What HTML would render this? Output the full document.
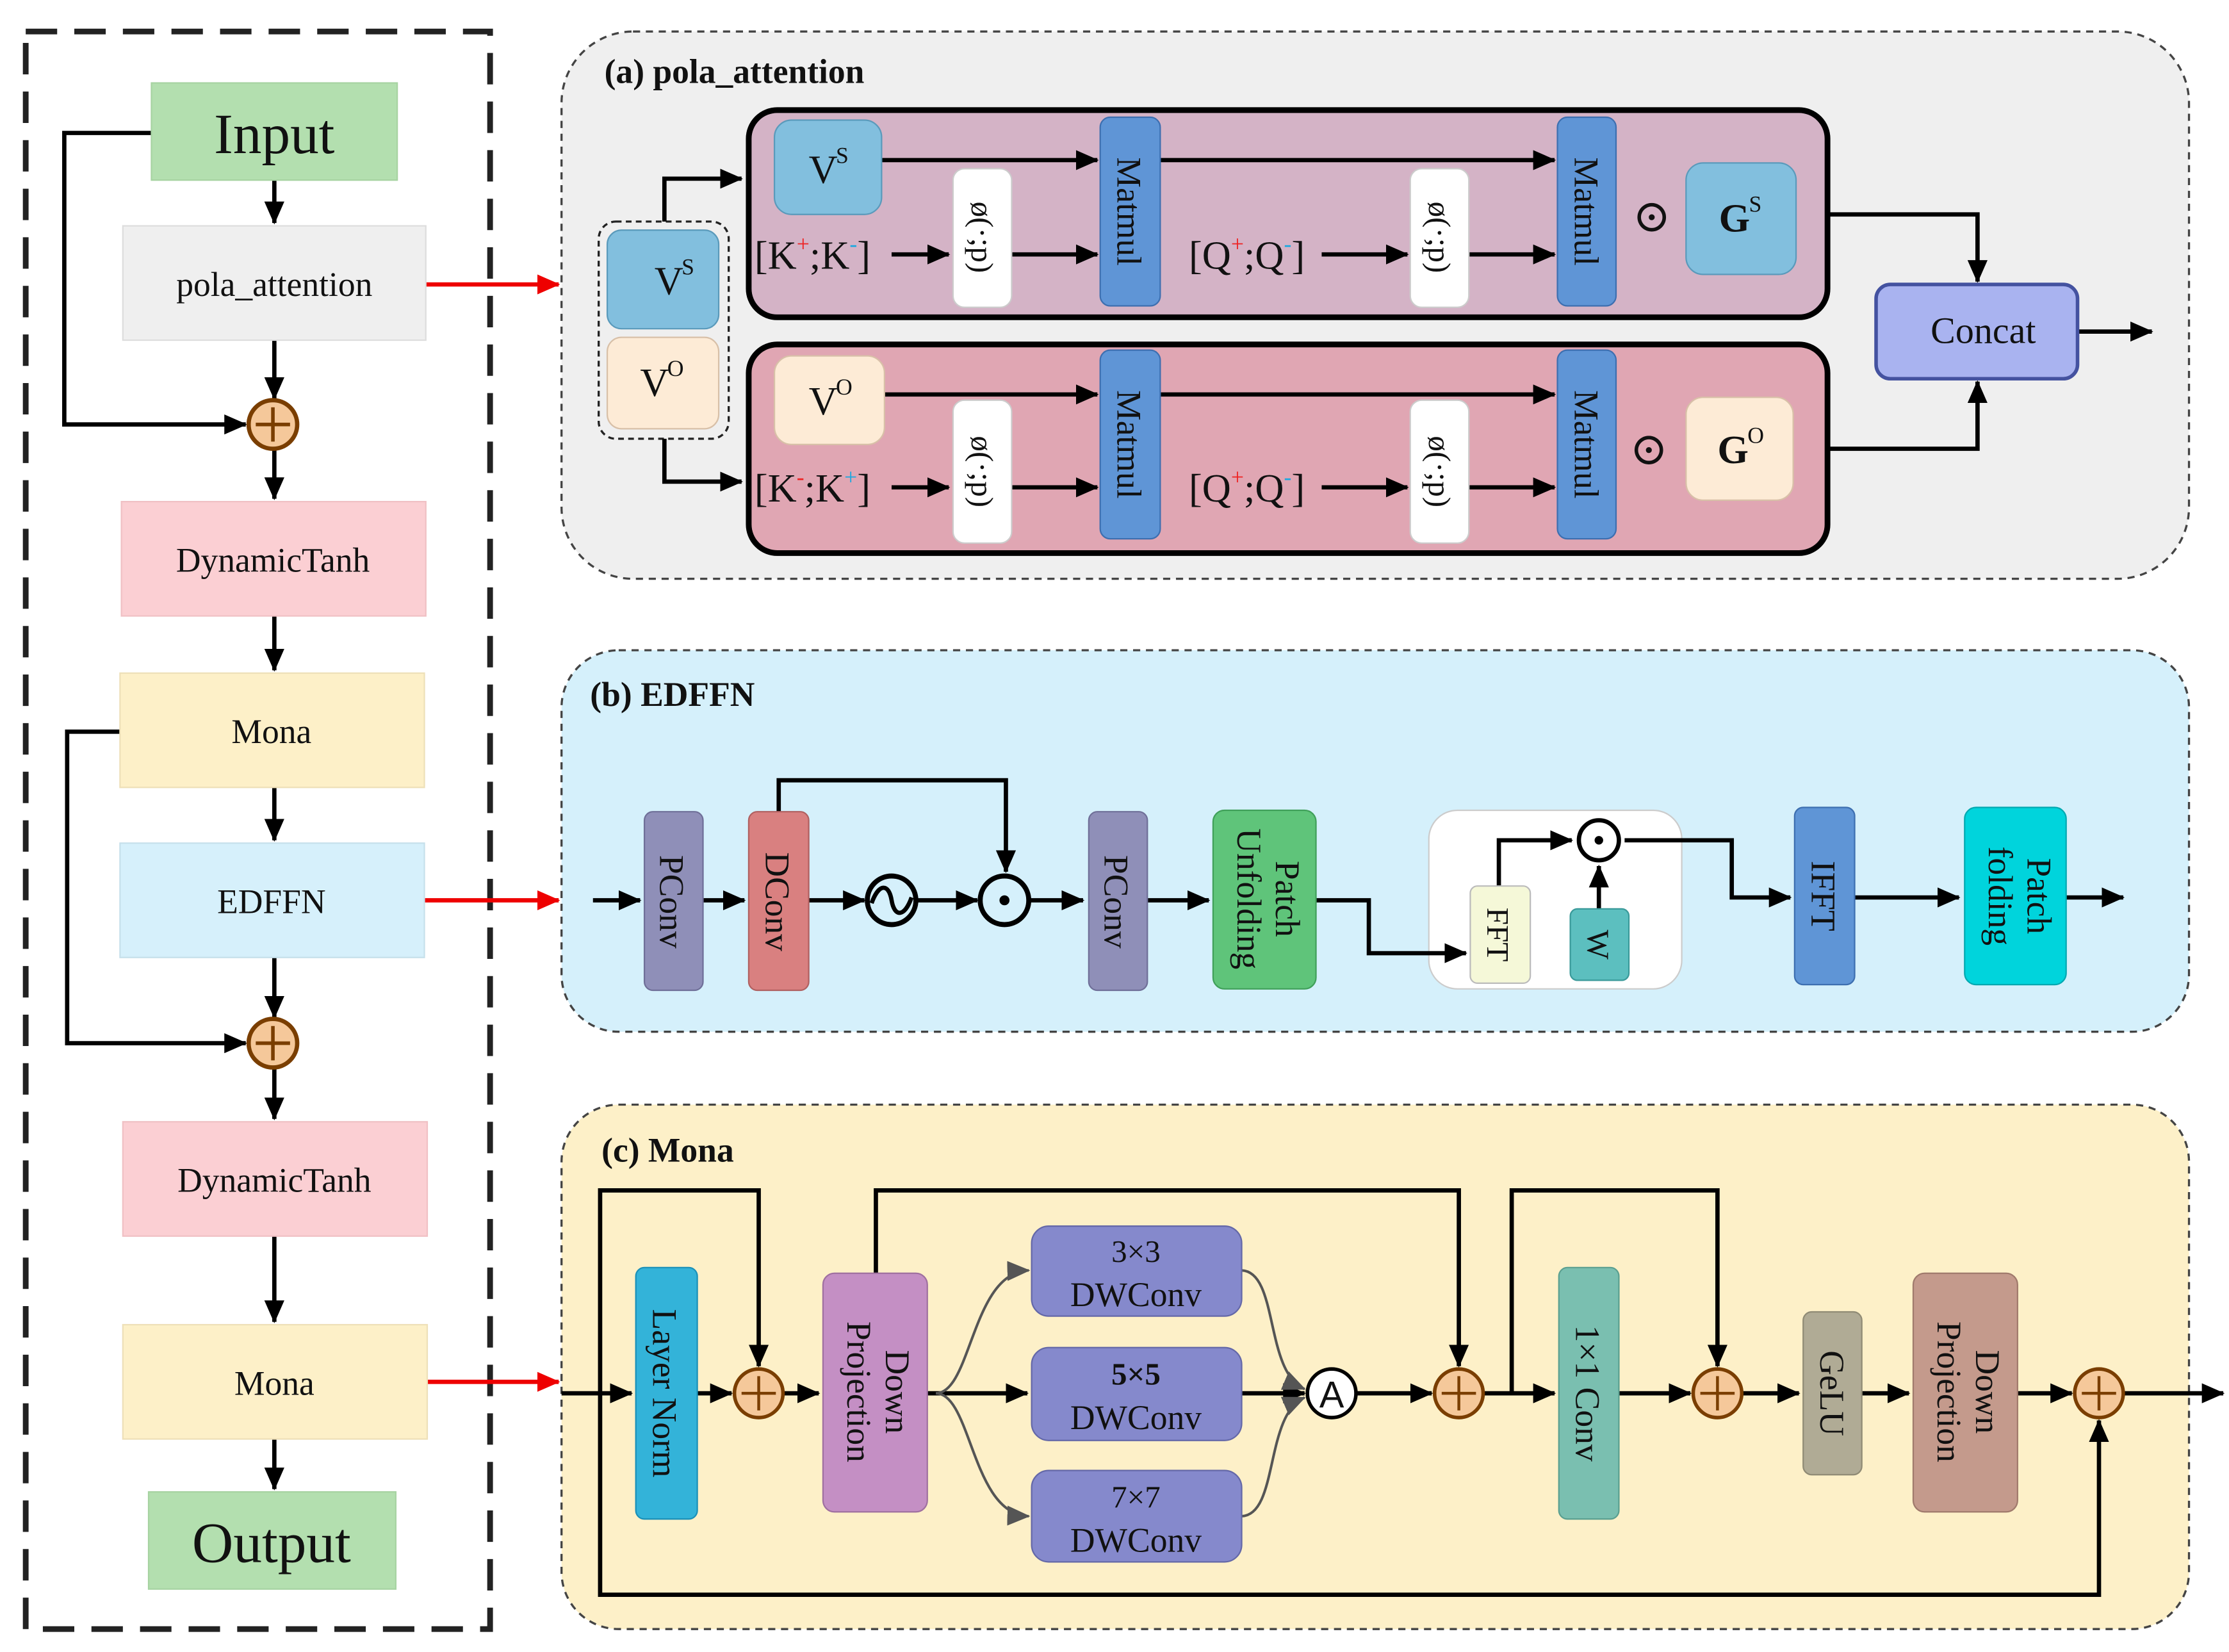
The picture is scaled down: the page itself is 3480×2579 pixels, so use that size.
<!DOCTYPE html>
<html><head><meta charset="utf-8"><style>
html,body{margin:0;padding:0;background:#fff;}
svg{display:block;}
text{font-family:"Liberation Serif","DejaVu Serif",serif;fill:#111;}
</style></head><body>
<svg width="3480" height="2579" viewBox="0 0 1560 1156" xmlns="http://www.w3.org/2000/svg">
<defs>
<marker id="a" markerWidth="8" markerHeight="8" refX="7" refY="4" orient="auto" markerUnits="userSpaceOnUse" viewBox="0 0 8 8"><path d="M0,0 L8,4 L0,8 z" fill="#000"/></marker>
<marker id="ab" markerWidth="16" markerHeight="14" refX="15" refY="7" orient="auto" markerUnits="userSpaceOnUse"><path d="M0,0 L16,7 L0,14 z" fill="#000"/></marker>
<marker id="ar" markerWidth="16" markerHeight="14" refX="15" refY="7" orient="auto" markerUnits="userSpaceOnUse"><path d="M0,0 L16,7 L0,14 z" fill="#e00"/></marker>
<marker id="ag" markerWidth="16" markerHeight="14" refX="15" refY="7" orient="auto" markerUnits="userSpaceOnUse"><path d="M0,0 L16,7 L0,14 z" fill="#555"/></marker>
</defs>
<rect width="1560" height="1156" fill="#fff"/>

<!-- LEFT COLUMN -->
<rect x="18" y="22" width="325" height="1118" fill="none" stroke="#222" stroke-width="4" stroke-dasharray="22,12"/>
<g stroke="#000" stroke-width="3" fill="none">
<path d="M106,93 H45 V297 H172" marker-end="url(#ab)"/>
<path d="M84,512 H47 V730 H172" marker-end="url(#ab)"/>
<path d="M192,126 V156" marker-end="url(#ab)"/>
<path d="M192,238 V279" marker-end="url(#ab)"/>
<path d="M192,315 V349" marker-end="url(#ab)"/>
<path d="M192,431 V469" marker-end="url(#ab)"/>
<path d="M192,551 V588" marker-end="url(#ab)"/>
<path d="M192,670 V712" marker-end="url(#ab)"/>
<path d="M192,748 V783" marker-end="url(#ab)"/>
<path d="M192,865 V925" marker-end="url(#ab)"/>
<path d="M192,1007 V1042" marker-end="url(#ab)"/>
</g>
<g stroke="#e00" stroke-width="3" fill="none">
<path d="M298,199 H391" marker-end="url(#ar)"/>
<path d="M297,630 H391" marker-end="url(#ar)"/>
<path d="M299,967 H391" marker-end="url(#ar)"/>
</g>
<rect x="106" y="58" width="172" height="68" fill="#b3dfaf" stroke="#a7d3a2"/>
<text x="192" y="107" font-size="40" text-anchor="middle">Input</text>
<rect x="86" y="158" width="212" height="80" fill="#efefef" stroke="#ddd"/>
<text x="192" y="207" font-size="24" text-anchor="middle">pola_attention</text>
<rect x="85" y="351" width="213" height="80" fill="#fbcfd3" stroke="#f0c0c4"/>
<text x="191" y="400" font-size="24" text-anchor="middle">DynamicTanh</text>
<rect x="84" y="471" width="213" height="80" fill="#fdf0c8" stroke="#eee0b8"/>
<text x="190" y="520" font-size="24" text-anchor="middle">Mona</text>
<rect x="84" y="590" width="213" height="80" fill="#d6f0fb" stroke="#c6e0eb"/>
<text x="190" y="639" font-size="24" text-anchor="middle">EDFFN</text>
<rect x="86" y="785" width="213" height="80" fill="#fbcfd3" stroke="#f0c0c4"/>
<text x="192" y="834" font-size="24" text-anchor="middle">DynamicTanh</text>
<rect x="86" y="927" width="213" height="80" fill="#fdf0c8" stroke="#eee0b8"/>
<text x="192" y="976" font-size="24" text-anchor="middle">Mona</text>
<rect x="104" y="1044" width="173" height="68" fill="#b3dfaf" stroke="#a7d3a2"/>
<text x="190" y="1093" font-size="40" text-anchor="middle">Output</text>
<g stroke="#7a3e00" stroke-width="3" fill="#f5c89a">
<circle cx="191" cy="297" r="17"/><circle cx="191" cy="730" r="17"/>
</g>
<g stroke="#7a3e00" stroke-width="2.5">
<path d="M179,297 H203 M191,285 V309"/><path d="M179,730 H203 M191,718 V742"/>
</g>

<!-- PANEL A -->
<rect x="393" y="22" width="1139" height="383" rx="50" fill="#efefef" stroke="#444" stroke-width="1.5" stroke-dasharray="5,4"/>
<text x="423" y="58" font-size="24" font-weight="bold">(a) pola_attention</text>
<rect x="524" y="77" width="755" height="145" rx="20" fill="#d4b3c6" stroke="#000" stroke-width="4"/>
<rect x="524" y="241" width="755" height="146" rx="20" fill="#e0a6b3" stroke="#000" stroke-width="4"/>
<rect x="419" y="155" width="91" height="152" rx="12" fill="none" stroke="#222" stroke-width="1.5" stroke-dasharray="4,3"/>
<rect x="425" y="161" width="78" height="69" rx="10" fill="#82bfde" stroke="#5a9abb"/>
<text x="458" y="206" font-size="28">V</text><text x="477" y="192" font-size="16">S</text>
<rect x="425" y="236" width="78" height="64" rx="10" fill="#fdebd6" stroke="#d8c0a8"/>
<text x="448" y="277" font-size="28">V</text><text x="467" y="263" font-size="16">O</text>
<g stroke="#000" stroke-width="3" fill="none">
<path d="M465,155 V125 H519" marker-end="url(#ab)"/>
<path d="M465,307 V337 H519" marker-end="url(#ab)"/>
<path d="M617,112 H768" marker-end="url(#ab)"/>
<path d="M812,112 H1088" marker-end="url(#ab)"/>
<path d="M624,178 H664" marker-end="url(#ab)"/>
<path d="M708,178 H768" marker-end="url(#ab)"/>
<path d="M925,178 H985" marker-end="url(#ab)"/>
<path d="M1028,178 H1088" marker-end="url(#ab)"/>
<path d="M619,276 H768" marker-end="url(#ab)"/>
<path d="M812,276 H1088" marker-end="url(#ab)"/>
<path d="M624,341 H664" marker-end="url(#ab)"/>
<path d="M708,341 H768" marker-end="url(#ab)"/>
<path d="M925,341 H985" marker-end="url(#ab)"/>
<path d="M1028,341 H1088" marker-end="url(#ab)"/>
<path d="M1280,150 H1384 V197" marker-end="url(#ab)"/>
<path d="M1280,314 H1384 V267" marker-end="url(#ab)"/>
<path d="M1454,232 H1506" marker-end="url(#ab)"/>
</g>
<!-- top row -->
<rect x="542" y="84" width="75" height="66" rx="12" fill="#82bfde" stroke="#5a9abb"/>
<text x="566" y="128" font-size="28">V</text><text x="585" y="114" font-size="16">S</text>
<text x="528" y="188" font-size="28">[K<tspan font-size="16" dy="-12" fill="#e22">+</tspan><tspan dy="12">;K</tspan><tspan font-size="16" dy="-12" fill="#19a8e0">-</tspan><tspan dy="12">]</tspan></text>
<rect x="667" y="118" width="41" height="97" rx="8" fill="#fff" stroke="#ccc"/>
<text transform="translate(680,166) rotate(90)" font-size="22" text-anchor="middle">ø(·;p)</text>
<rect x="770" y="82" width="42" height="132" rx="7" fill="#5f95d6" stroke="#3d6fb0"/>
<text transform="translate(782,148) rotate(90)" font-size="24" text-anchor="middle">Matmul</text>
<text x="832" y="188" font-size="28">[Q<tspan font-size="16" dy="-12" fill="#e22">+</tspan><tspan dy="12">;Q</tspan><tspan font-size="16" dy="-12" fill="#19a8e0">-</tspan><tspan dy="12">]</tspan></text>
<rect x="987" y="118" width="41" height="97" rx="8" fill="#fff" stroke="#ccc"/>
<text transform="translate(1000,166) rotate(90)" font-size="22" text-anchor="middle">ø(·;p)</text>
<rect x="1090" y="82" width="41" height="132" rx="7" fill="#5f95d6" stroke="#3d6fb0"/>
<text transform="translate(1102,148) rotate(90)" font-size="24" text-anchor="middle">Matmul</text>
<text x="1156" y="162" font-size="32" text-anchor="middle">⊙</text>
<rect x="1180" y="114" width="77" height="78" rx="12" fill="#82bfde" stroke="#5a9abb"/>
<text x="1203" y="162" font-size="28" font-weight="bold">G</text><text x="1224" y="148" font-size="16">S</text>
<!-- bottom row -->
<rect x="542" y="249" width="77" height="62" rx="12" fill="#fdebd6" stroke="#d8c0a8"/>
<text x="566" y="290" font-size="28">V</text><text x="585" y="276" font-size="16">O</text>
<text x="528" y="351" font-size="28">[K<tspan font-size="16" dy="-12" fill="#e22">-</tspan><tspan dy="12">;K</tspan><tspan font-size="16" dy="-12" fill="#19a8e0">+</tspan><tspan dy="12">]</tspan></text>
<rect x="667" y="280" width="41" height="100" rx="8" fill="#fff" stroke="#ccc"/>
<text transform="translate(680,330) rotate(90)" font-size="22" text-anchor="middle">ø(·;p)</text>
<rect x="770" y="245" width="42" height="132" rx="7" fill="#5f95d6" stroke="#3d6fb0"/>
<text transform="translate(782,311) rotate(90)" font-size="24" text-anchor="middle">Matmul</text>
<text x="832" y="351" font-size="28">[Q<tspan font-size="16" dy="-12" fill="#e22">+</tspan><tspan dy="12">;Q</tspan><tspan font-size="16" dy="-12" fill="#19a8e0">-</tspan><tspan dy="12">]</tspan></text>
<rect x="987" y="280" width="41" height="100" rx="8" fill="#fff" stroke="#ccc"/>
<text transform="translate(1000,330) rotate(90)" font-size="22" text-anchor="middle">ø(·;p)</text>
<rect x="1090" y="245" width="41" height="132" rx="7" fill="#5f95d6" stroke="#3d6fb0"/>
<text transform="translate(1102,311) rotate(90)" font-size="24" text-anchor="middle">Matmul</text>
<text x="1154" y="325" font-size="32" text-anchor="middle">⊙</text>
<rect x="1180" y="278" width="75" height="72" rx="12" fill="#fdebd6" stroke="#d8c0a8"/>
<text x="1202" y="324" font-size="28" font-weight="bold">G</text><text x="1223" y="310" font-size="16">O</text>
<rect x="1313" y="199" width="141" height="66" rx="10" fill="#a9b3f0" stroke="#4452a0" stroke-width="2.5"/>
<text x="1388" y="240" font-size="26" text-anchor="middle">Concat</text>

<!-- PANEL B -->
<rect x="393" y="455" width="1139" height="267" rx="40" fill="#d5f0fb" stroke="#444" stroke-width="1.5" stroke-dasharray="5,4"/>
<text x="413" y="494" font-size="24" font-weight="bold">(b) EDFFN</text>
<rect x="1000" y="567" width="177" height="125" rx="20" fill="#fff" stroke="#ccc"/>
<g stroke="#000" stroke-width="3" fill="none">
<path d="M415,630 H448" marker-end="url(#ab)"/>
<path d="M492,630 H521" marker-end="url(#ab)"/>
<path d="M566,630 H605" marker-end="url(#ab)"/>
<path d="M642,630 H684" marker-end="url(#ab)"/>
<path d="M721,630 H758" marker-end="url(#ab)"/>
<path d="M545,568 V546 H704 V610" marker-end="url(#ab)"/>
<path d="M803,630 H846" marker-end="url(#ab)"/>
<path d="M921,630 H958 V667 H1026" marker-end="url(#ab)"/>
<path d="M1049,620 V588 H1100" marker-end="url(#ab)"/>
<path d="M1119,636 V606" marker-end="url(#ab)"/>
<path d="M1137,588 H1212 V628 H1253" marker-end="url(#ab)"/>
<path d="M1298,628 H1371" marker-end="url(#ab)"/>
<path d="M1446,628 H1486" marker-end="url(#ab)"/>
<circle cx="624" cy="630" r="17" stroke-width="3.5"/>
<path d="M610,632 C615,618 622,618 624,630 C626,642 633,642 638,628" stroke-width="3"/>
<circle cx="703" cy="630" r="17" stroke-width="3.5"/>
<circle cx="1119" cy="588" r="14" stroke-width="3"/>
</g>
<circle cx="703" cy="630" r="3.5" fill="#000"/>
<circle cx="1119" cy="588" r="3" fill="#000"/>
<rect x="451" y="568" width="41" height="125" rx="6" fill="#8f8fb8" stroke="#6f6f98"/>
<text transform="translate(462,631) rotate(90)" font-size="24" text-anchor="middle">PConv</text>
<rect x="524" y="568" width="42" height="125" rx="6" fill="#d98080" stroke="#b06060"/>
<text transform="translate(536,631) rotate(90)" font-size="24" text-anchor="middle">DConv</text>
<rect x="762" y="568" width="41" height="125" rx="6" fill="#8f8fb8" stroke="#6f6f98"/>
<text transform="translate(773,631) rotate(90)" font-size="24" text-anchor="middle">PConv</text>
<rect x="849" y="567" width="72" height="125" rx="8" fill="#5fc47a" stroke="#40a05a"/>
<text transform="translate(893,629) rotate(90)" font-size="24" text-anchor="middle">Patch</text>
<text transform="translate(866,629) rotate(90)" font-size="24" text-anchor="middle">Unfolding</text>
<rect x="1029" y="620" width="42" height="68" rx="5" fill="#f5f8d8" stroke="#bbb"/>
<text transform="translate(1041,654) rotate(90)" font-size="22" text-anchor="middle">FFT</text>
<rect x="1099" y="636" width="41" height="50" rx="5" fill="#5cbfbf" stroke="#3a9a9a"/>
<text transform="translate(1111,661) rotate(90)" font-size="22" text-anchor="middle">W</text>
<rect x="1256" y="565" width="42" height="124" rx="6" fill="#5f95d6" stroke="#3d6fb0"/>
<text transform="translate(1268,627) rotate(90)" font-size="24" text-anchor="middle">IFFT</text>
<rect x="1375" y="565" width="71" height="124" rx="8" fill="#00d4dc" stroke="#00a8b0"/>
<text transform="translate(1419,627) rotate(90)" font-size="24" text-anchor="middle">Patch</text>
<text transform="translate(1392,627) rotate(90)" font-size="24" text-anchor="middle">folding</text>

<!-- PANEL C -->
<rect x="393" y="773" width="1139" height="367" rx="40" fill="#fdf0c8" stroke="#444" stroke-width="1.5" stroke-dasharray="5,4"/>
<text x="421" y="813" font-size="24" font-weight="bold">(c) Mona</text>
<g stroke="#000" stroke-width="3" fill="none">
<path d="M393,975 H442" marker-end="url(#ab)"/>
<path d="M420,975 V833 H531 V956" marker-end="url(#ab)"/>
<path d="M420,975 V1116 H1469 V994" marker-end="url(#ab)"/>
<path d="M488,975 H512" marker-end="url(#ab)"/>
<path d="M549,975 H573" marker-end="url(#ab)"/>
<path d="M613,891 V833 H1021 V956" marker-end="url(#ab)"/>
<path d="M649,975 H719" marker-end="url(#ab)"/>
<path d="M869,975 H913" marker-end="url(#ab)"/>
<path d="M950,975 H1002" marker-end="url(#ab)"/>
<path d="M1039,975 H1088" marker-end="url(#ab)"/>
<path d="M1058,975 V833 H1202 V956" marker-end="url(#ab)"/>
<path d="M1133,975 H1183" marker-end="url(#ab)"/>
<path d="M1220,975 H1259" marker-end="url(#ab)"/>
<path d="M1303,975 H1336" marker-end="url(#ab)"/>
<path d="M1412,975 H1450" marker-end="url(#ab)"/>
<path d="M1487,975 H1556" marker-end="url(#ab)"/>
</g>
<g stroke="#555" stroke-width="1.8" fill="none">
<path d="M655,975 C680,975 680,890 720,889" marker-end="url(#ag)"/>
<path d="M655,975 C680,975 680,1060 720,1061" marker-end="url(#ag)"/>
<path d="M869,889 C895,890 885,960 913,972" marker-end="url(#ag)"/>
<path d="M869,1061 C895,1060 885,990 913,978" marker-end="url(#ag)"/>
</g>
<rect x="445" y="887" width="43" height="176" rx="6" fill="#33b3d9" stroke="#1a90b8"/>
<text transform="translate(457,975) rotate(90)" font-size="24" text-anchor="middle">Layer Norm</text>
<rect x="576" y="891" width="73" height="167" rx="8" fill="#c48fc4" stroke="#a070a0"/>
<text transform="translate(620,974) rotate(90)" font-size="24" text-anchor="middle">Down</text>
<text transform="translate(593,974) rotate(90)" font-size="24" text-anchor="middle">Projection</text>
<rect x="722" y="858" width="147" height="63" rx="12" fill="#8589cc" stroke="#6468a8"/>
<text x="795" y="883" font-size="22" text-anchor="middle">3×3</text>
<text x="795" y="914" font-size="24" text-anchor="middle">DWConv</text>
<rect x="722" y="943" width="147" height="65" rx="12" fill="#8589cc" stroke="#6468a8"/>
<text x="795" y="969" font-size="22" font-weight="bold" text-anchor="middle">5×5</text>
<text x="795" y="1000" font-size="24" text-anchor="middle">DWConv</text>
<rect x="722" y="1029" width="147" height="64" rx="12" fill="#8589cc" stroke="#6468a8"/>
<text x="795" y="1055" font-size="22" text-anchor="middle">7×7</text>
<text x="795" y="1086" font-size="24" text-anchor="middle">DWConv</text>
<circle cx="932" cy="975" r="17" fill="#fff" stroke="#000" stroke-width="2.5"/>
<text x="932" y="985" font-size="26" text-anchor="middle" style="font-family:'Liberation Sans',sans-serif">A</text>
<rect x="1091" y="887" width="42" height="176" rx="6" fill="#7abfb0" stroke="#5a9f90"/>
<text transform="translate(1103,975) rotate(90)" font-size="24" text-anchor="middle">1×1 Conv</text>
<rect x="1262" y="918" width="41" height="114" rx="6" fill="#b0ab95" stroke="#908b75"/>
<text transform="translate(1274,975) rotate(90)" font-size="24" text-anchor="middle">GeLU</text>
<rect x="1339" y="891" width="73" height="167" rx="8" fill="#c49a8c" stroke="#a07a6c"/>
<text transform="translate(1383,974) rotate(90)" font-size="24" text-anchor="middle">Down</text>
<text transform="translate(1356,974) rotate(90)" font-size="24" text-anchor="middle">Projection</text>
<g stroke="#7a3e00" stroke-width="2.5" fill="#f5c89a">
<circle cx="531" cy="975" r="17"/><circle cx="1021" cy="975" r="17"/><circle cx="1202" cy="975" r="17"/><circle cx="1469" cy="975" r="17"/>
</g>
<g stroke="#7a3e00" stroke-width="2">
<path d="M519,975 H543 M531,963 V987"/><path d="M1009,975 H1033 M1021,963 V987"/>
<path d="M1190,975 H1214 M1202,963 V987"/><path d="M1457,975 H1481 M1469,963 V987"/>
</g>
</svg>
</body></html>
